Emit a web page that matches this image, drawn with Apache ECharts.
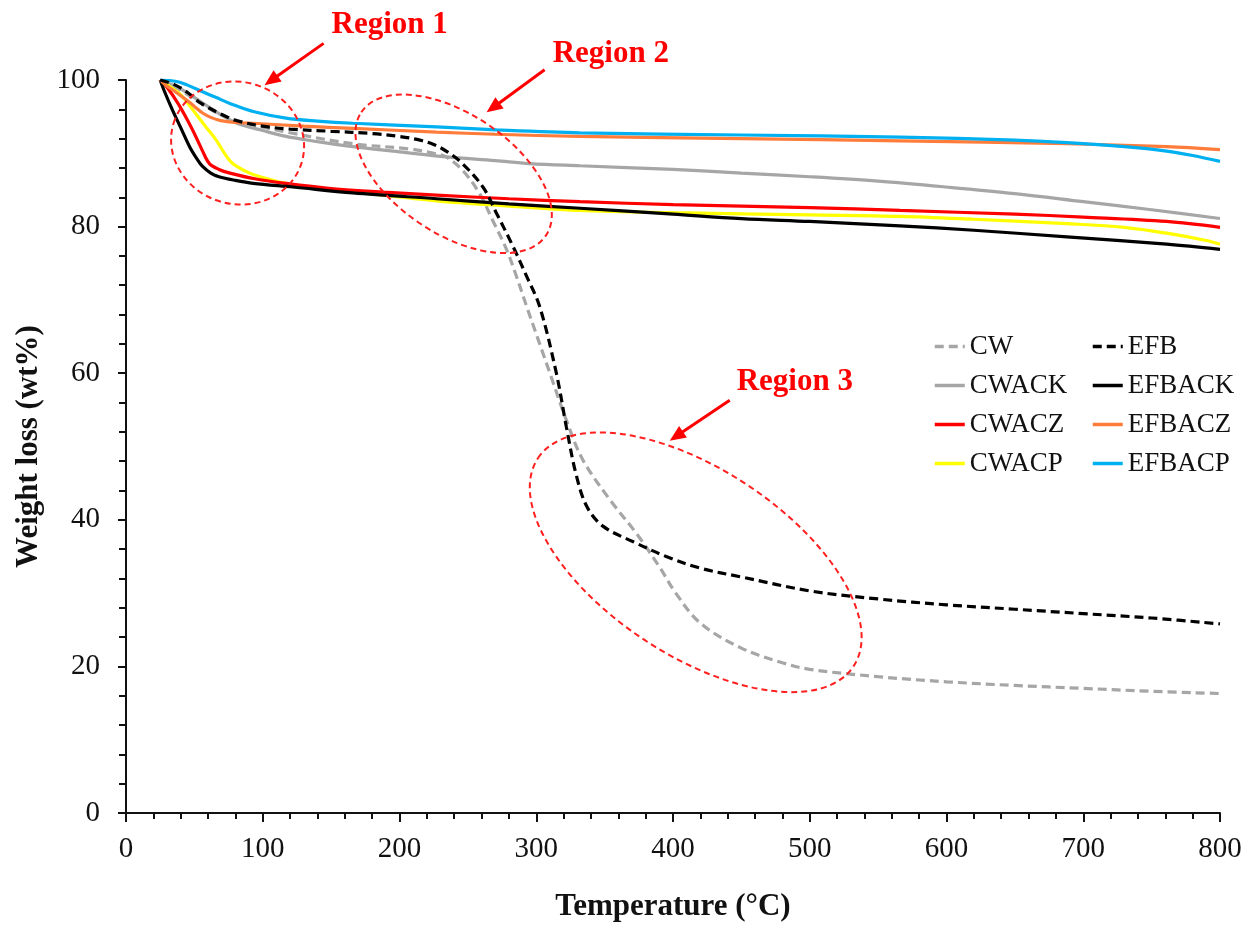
<!DOCTYPE html>
<html>
<head>
<meta charset="utf-8">
<script src="https://cdn.jsdelivr.net/npm/echarts@6/dist/echarts.min.js"></script>
<style>
html,body{margin:0;padding:0;background:#fff;}
#chart{width:1255px;height:927px;}
</style>
</head>
<body>
<div id="chart"></div>
<script>
// ---- Data (temperature °C, weight %) ----
const CW_T = [25,40,55,70,93,120,166,207,225,234,246,258.6,268,278,285,293,310,322,334,354,373,390,402,420,450,480,500,550,600,650,700,750,800];
const CW_W = [100,98.6,96.8,95.2,93.9,92.8,91.3,90.6,90.0,89.5,87.7,84.5,80.9,77.0,73.5,69.1,60.0,53.6,48.2,42.7,38.2,33.6,30.0,25.9,22.5,20.5,19.6,18.6,17.9,17.4,17.0,16.6,16.3];

const CWACK_T = [25,40,55,70,81,100,117,140,166,200,234,270,295,332,400,450,500,550,600,650,700,750,800];
const CWACK_W = [100,98.8,97.0,95.2,94.1,93.1,92.3,91.6,90.9,90.2,89.5,89.0,88.6,88.3,87.8,87.3,86.8,86.2,85.4,84.5,83.4,82.3,81.1];

const CWACZ_T = [25,30,38,45,51,56,61,68,76,95,117,150,188,227,280,332,400,500,566,650,700,761,800];
const CWACZ_W = [100,99.0,96.8,94.5,92.3,90.3,88.6,87.8,87.3,86.5,85.9,85.2,84.7,84.3,83.8,83.4,83.0,82.6,82.2,81.7,81.3,80.7,79.9];

const CWACP_T = [25,32,40,51,58,66,72,78,88,98,117,150,188,227,280,332,400,500,566,620,688,730,761,790,800];
const CWACP_W = [100,99.1,98.0,95.4,93.7,91.8,90.0,88.6,87.5,86.8,85.9,85.0,84.3,83.5,82.8,82.2,81.9,81.6,81.4,81.0,80.4,79.9,79.1,78.1,77.6];

const EFB_T = [25,35,45,55,70,80,100,120,150,180,200,215,225,235,246,261,271,283,293,302.5,314.7,322,329,337,349,371,395,420,450,500,550,600,650,700,750,800];
const EFB_W = [100,99.4,98.3,96.8,95.3,94.5,93.7,93.3,93.0,92.7,92.3,91.8,91.2,90.2,88.6,85.4,81.8,77.3,73.2,69.1,60.0,52.7,46.3,41.8,39.1,37.0,35.0,33.4,32.2,30.3,29.2,28.4,27.8,27.2,26.6,25.8];

const EFBACK_T = [25,28,34,40,46.5,52,56,62,68,80,93,122,166,227,280,332,400,450,500,566,620,688,761,800];
const EFBACK_W = [100,98.5,95.9,93.5,90.9,89.2,88.2,87.3,86.8,86.3,85.9,85.4,84.6,83.8,83.1,82.5,81.7,81.1,80.7,80.1,79.5,78.6,77.6,76.9];

const EFBACZ_T = [25,29,36,44,50,56,62,68.4,80,93,130,166,227,270,332,450,566,688,761,800];
const EFBACZ_W = [100,99.3,98.4,97.3,96.4,95.5,94.9,94.5,94.2,94.1,93.7,93.4,92.9,92.6,92.3,92.0,91.7,91.3,90.9,90.5];

const EFBACP_T = [25,37,45,56,66,76,93,117,140,166,227,271,332,450,566,650,688,730,761,780,800];
const EFBACP_W = [100,99.8,99.3,98.4,97.6,96.8,95.7,94.8,94.4,94.1,93.6,93.2,92.8,92.5,92.2,91.8,91.45,90.9,90.3,89.7,88.9];

const X_TICKS = [0,100,200,300,400,500,600,700,800];
const Y_TICKS = [0,20,40,60,80,100];
const LEGEND_COL1 = ['CW','CWACK','CWACZ','CWACP'];
const LEGEND_COL2 = ['EFB','EFBACK','EFBACZ','EFBACP'];

function pairs(t, w){ return t.map((v,i)=>[v,w[i]]); }

const seriesDefs = [
  {name:'CW', t:CW_T, w:CW_W, color:'#A6A6A6', dash:'dashed'},
  {name:'CWACK', t:CWACK_T, w:CWACK_W, color:'#A6A6A6', dash:'solid'},
  {name:'CWACZ', t:CWACZ_T, w:CWACZ_W, color:'#FF0000', dash:'solid'},
  {name:'CWACP', t:CWACP_T, w:CWACP_W, color:'#FFFF00', dash:'solid'},
  {name:'EFB', t:EFB_T, w:EFB_W, color:'#000000', dash:'dashed'},
  {name:'EFBACK', t:EFBACK_T, w:EFBACK_W, color:'#000000', dash:'solid'},
  {name:'EFBACZ', t:EFBACZ_T, w:EFBACZ_W, color:'#FF7C3A', dash:'solid'},
  {name:'EFBACP', t:EFBACP_T, w:EFBACP_W, color:'#00B0F0', dash:'solid'}
];
const drawOrder = ['CWACK','CW','CWACP','CWACZ','EFBACK','EFBACZ','EFBACP','EFB'];

const SERIF = '"Liberation Serif", "DejaVu Serif", serif';

const chart = echarts.init(document.getElementById('chart'), null, {renderer:'canvas'});

const series = drawOrder.map((n, idx) => {
  const d = seriesDefs.find(s => s.name === n);
  return {
    name: d.name,
    type: 'line',
    data: pairs(d.t, d.w),
    smooth: 0.35,
    symbol: 'none',
    showSymbol: false,
    z: 2 + idx,
    color: d.color,
    itemStyle: {color: d.color},
    lineStyle: {color: d.color, width: 3.2, type: d.dash === 'dashed' ? [9, 5] : 'solid'}
  };
});

function makeLegend(names, left){
  return {
    show: true,
    orient: 'vertical',
    left: left,
    top: 328,
    data: names,
    itemWidth: 30,
    itemHeight: 14,
    itemGap: 12,
    selectedMode: false,
    itemStyle: {opacity: 0},
    lineStyle: {width: 3.5},
    textStyle: {fontFamily: SERIF, fontSize: 27, color: '#111'}
  };
}

chart.setOption({
  animation: false,
  backgroundColor: '#fff',
  grid: {left: 126, right: 35, top: 80, bottom: 114, containLabel: false},
  legend: [makeLegend(LEGEND_COL1, 928), makeLegend(LEGEND_COL2, 1086)],
  xAxis: {
    type: 'value', min: X_TICKS[0], max: X_TICKS[X_TICKS.length-1], interval: 100,
    name: 'Temperature (°C)', nameLocation: 'middle', nameGap: 78,
    nameTextStyle: {fontFamily: SERIF, fontWeight: 'bold', fontSize: 31, color: '#111'},
    axisLine: {lineStyle: {color: '#111', width: 2}},
    axisTick: {show: true, inside: false, length: 9, lineStyle: {color: '#111', width: 2}},
    minorTick: {show: true, splitNumber: 5, length: 6, lineStyle: {color: '#111', width: 2}},
    axisLabel: {fontFamily: SERIF, fontSize: 29, color: '#111', margin: 22},
    splitLine: {show: false}
  },
  yAxis: {
    type: 'value', min: Y_TICKS[0], max: Y_TICKS[Y_TICKS.length-1], interval: 20,
    name: 'Weight loss (wt%)', nameLocation: 'middle', nameGap: 82,
    nameTextStyle: {fontFamily: SERIF, fontWeight: 'bold', fontSize: 31, color: '#111'},
    axisLine: {show: true, lineStyle: {color: '#111', width: 2}},
    axisTick: {show: true, inside: false, length: 8, lineStyle: {color: '#111', width: 2}},
    minorTick: {show: true, splitNumber: 5, length: 7, lineStyle: {color: '#111', width: 2}},
    axisLabel: {fontFamily: SERIF, fontSize: 29, color: '#111', margin: 26},
    splitLine: {show: false}
  },
  series: series
});

// ---- Annotations (anchored in data units; radii in px) ----
const ANNOT_ELLIPSES = [
  {c:[81.6, 91.4], rx:67, ry:61, rot:-0.30},
  {c:[239.6, 87.2], rx:111, ry:60, rot:-0.588},
  {c:[416.6, 34.2], rx:189, ry:93, rot:-0.583}
];
const ANNOT_ARROWS = [
  {from:[144.5, 105.0], to:[101.3, 99.3]},
  {from:[306.1, 101.4], to:[263.7, 95.6]},
  {from:[441.5, 56.3], to:[397.6, 50.8]}
];
const ANNOT_LABELS = [
  {at:[150.3, 107.5], text:'Region 1'},
  {at:[312.0, 103.5], text:'Region 2'},
  {at:[446.6, 58.8], text:'Region 3'}
];

function px(p){ return chart.convertToPixel({gridIndex:0}, p); }

const graphics = [];
ANNOT_ELLIPSES.forEach(e => {
  const c = px(e.c);
  graphics.push({
    type:'ellipse', x:c[0], y:c[1], rotation:e.rot,
    shape:{cx:0, cy:0, rx:e.rx, ry:e.ry},
    style:{fill:null, stroke:'#FF1F1F', lineWidth:2, lineDash:[6,4]},
    z: 50
  });
});
ANNOT_ARROWS.forEach(a => {
  const f = px(a.from), t = px(a.to);
  const dx = t[0]-f[0], dy = t[1]-f[1];
  const len = Math.sqrt(dx*dx+dy*dy);
  const ux = dx/len, uy = dy/len;
  const headLen = 16, headW = 7;
  const bx = t[0]-ux*headLen, by = t[1]-uy*headLen;
  graphics.push({
    type:'line', shape:{x1:f[0], y1:f[1], x2:bx+ux*2, y2:by+uy*2},
    style:{stroke:'#FF0000', lineWidth:3}, z:50
  });
  graphics.push({
    type:'polygon',
    shape:{points:[[t[0],t[1]],[bx - uy*headW, by + ux*headW],[bx + uy*headW, by - ux*headW]]},
    style:{fill:'#FF0000'}, z:50
  });
});
ANNOT_LABELS.forEach(l => {
  const p = px(l.at);
  graphics.push({
    type:'text', x:p[0], y:p[1],
    style:{text:l.text, fill:'#FF0000', font:'bold 31px ' + SERIF, textAlign:'left', textVerticalAlign:'middle'},
    z:50
  });
});
chart.setOption({graphic: graphics});
</script>
</body>
</html>
